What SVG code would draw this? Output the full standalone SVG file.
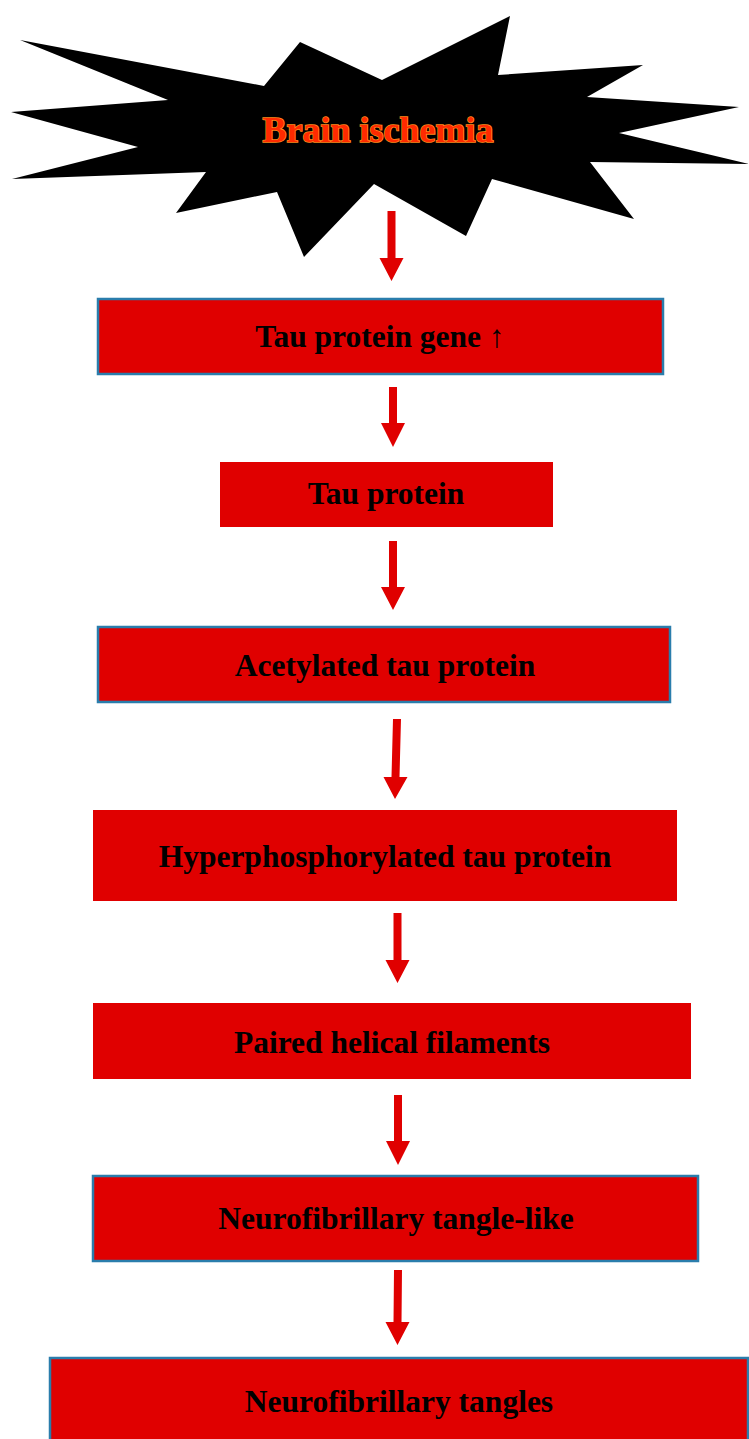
<svg xmlns="http://www.w3.org/2000/svg" width="749" height="1439" viewBox="0 0 749 1439">
<style>
.box{fill:#e00000;}
.bord{stroke:#2a7dac;stroke-width:2.5;}
.lbl{font-family:"Liberation Serif","Times New Roman",serif;font-weight:bold;font-size:31.5px;fill:#000;text-anchor:middle;}
.title{font-family:"Liberation Serif","Times New Roman",serif;font-weight:bold;font-size:36px;fill:#ff2a00;stroke:#ff8a1c;stroke-width:1.6;paint-order:stroke;text-anchor:middle;}
.arr{fill:#e00000;}
</style>
<rect width="749" height="1439" fill="#fff"/>
<g id="brain-ischemia">
<polygon fill="#000" points="20,40 264,86 300,42 382,80 510,16 498,75 643,65 587,97 739,107 619,133 749,164 590,162 634,219 492,179 466,236 374,184 304,257 277,192 176,213 206,172 12,179 138,147 11,112 168,100"/>
<text class="title" x="378" y="142">Brain ischemia</text>
</g>
<g id="tau-gene">
<rect class="box bord" x="98" y="299" width="565" height="75"/>
<text class="lbl" x="380" y="347">Tau protein gene ↑</text>
</g>
<g id="tau-protein">
<rect class="box" x="220" y="462" width="333" height="65"/>
<text class="lbl" x="386" y="504">Tau protein</text>
</g>
<g id="acetylated">
<rect class="box bord" x="98" y="627" width="572" height="75"/>
<text class="lbl" x="385" y="676">Acetylated tau protein</text>
</g>
<g id="hyperphos">
<rect class="box" x="93" y="810" width="584" height="91"/>
<text class="lbl" x="385" y="867">Hyperphosphorylated tau protein</text>
</g>
<g id="phf">
<rect class="box" x="93" y="1003" width="598" height="76"/>
<text class="lbl" x="392" y="1053">Paired helical filaments</text>
</g>
<g id="nft-like">
<rect class="box bord" x="93" y="1176" width="605" height="85"/>
<text class="lbl" x="396" y="1229">Neurofibrillary tangle-like</text>
</g>
<g id="nft">
<rect class="box bord" x="50" y="1358" width="698" height="90"/>
<text class="lbl" x="399" y="1412">Neurofibrillary tangles</text>
</g>
<g id="connectors">
<polygon class="arr" points="387.5,211 395.5,211 395.5,258 403.5,258 391.5,281 379.5,258 387.5,258"/>
<polygon class="arr" points="389,387 397,387 397,423 405,423 393,447 381,423 389,423"/>
<polygon class="arr" points="389,541 397,541 397,587 405,587 393,610 381,587 389,587"/>
<polygon class="arr" points="393,719 401,719 399.5,777 407.5,777 395,799 383.5,777 391.5,777"/>
<polygon class="arr" points="393.5,913 401.5,913 401.5,960 409.5,960 397.5,983 385.5,960 393.5,960"/>
<polygon class="arr" points="394,1095 402,1095 402,1141 410,1141 398,1165 386,1141 394,1141"/>
<polygon class="arr" points="394,1270 402,1270 401.5,1322 409.5,1322 397.5,1345 385.5,1322 393.5,1322"/>
</g>
</svg>
